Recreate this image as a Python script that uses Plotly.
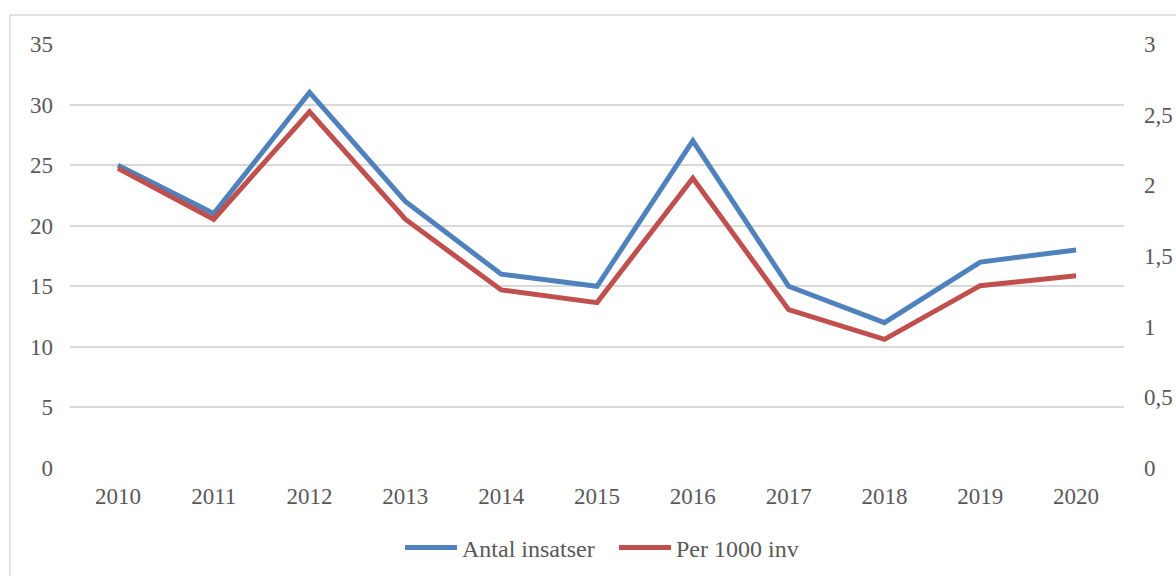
import plotly.graph_objects as go

years = ["2010", "2011", "2012", "2013", "2014", "2015", "2016", "2017", "2018", "2019", "2020"]
antal_insatser = [25, 21, 31, 22, 16, 15, 27, 15, 12, 17, 18]
per_1000_inv = [2.12, 1.76, 2.52, 1.76, 1.26, 1.17, 2.05, 1.12, 0.91, 1.29, 1.36]

W, H = 1176, 576
L, R, T, B = 70, 52, 44, 108
pw, ph = W - L - R, H - T - B

FAM = "Liberation Serif"
tick_font = dict(family=FAM, size=23, color="#595959")
legend_font = dict(family=FAM, size=24, color="#595959")

fig = go.Figure()
fig.add_trace(go.Scatter(
    x=years, y=antal_insatser, name="Antal insatser", mode="lines",
    line=dict(color="#4f81bd", width=5), yaxis="y"))
fig.add_trace(go.Scatter(
    x=years, y=per_1000_inv, name="Per 1000 inv", mode="lines",
    line=dict(color="#c0504d", width=5), yaxis="y2"))

def px_x(p):  # screen pixel -> paper x
    return (p - L) / pw

def px_y(p):  # screen pixel -> paper y
    return (T + ph - p) / ph

fig.update_layout(
    width=W, height=H,
    margin=dict(l=L, r=R, t=T, b=B, autoexpand=False),
    paper_bgcolor="white", plot_bgcolor="white",
    font=tick_font,
    separators=", ",
    showlegend=True,
    legend=dict(orientation="h", x=px_x(400), xanchor="left", y=px_y(548), yanchor="middle",
                font=legend_font, itemwidth=52, entrywidth=147, entrywidthmode="pixels",
                traceorder="normal"),
    xaxis=dict(type="category", range=[-0.5, 10.5], showgrid=False, showline=False,
               zeroline=False, ticks="", ticklabelstandoff=12, tickfont=tick_font),
    yaxis=dict(range=[0, 35], dtick=5, showgrid=True, gridcolor="#d9d9d9", gridwidth=1.5,
               zeroline=False, showline=False, ticks="", ticklabelstandoff=16, tickfont=tick_font),
    yaxis2=dict(range=[0, 3], dtick=0.5, overlaying="y", side="right", showgrid=False,
                zeroline=False, showline=False, ticks="", ticklabelstandoff=19, tickfont=tick_font),
    shapes=[dict(type="rect", xref="paper", yref="paper",
                 x0=px_x(10), x1=px_x(1200), y0=px_y(15), y1=px_y(620),
                 line=dict(color="#d9d9d9", width=1.5), fillcolor="rgba(0,0,0,0)", layer="below")],
)

# remove the default 8px page margin so the figure fills the window exactly
fig.write_html("out.html",
               config={"displayModeBar": False},
               post_script="document.body.style.margin='0';document.body.style.overflow='hidden';")
